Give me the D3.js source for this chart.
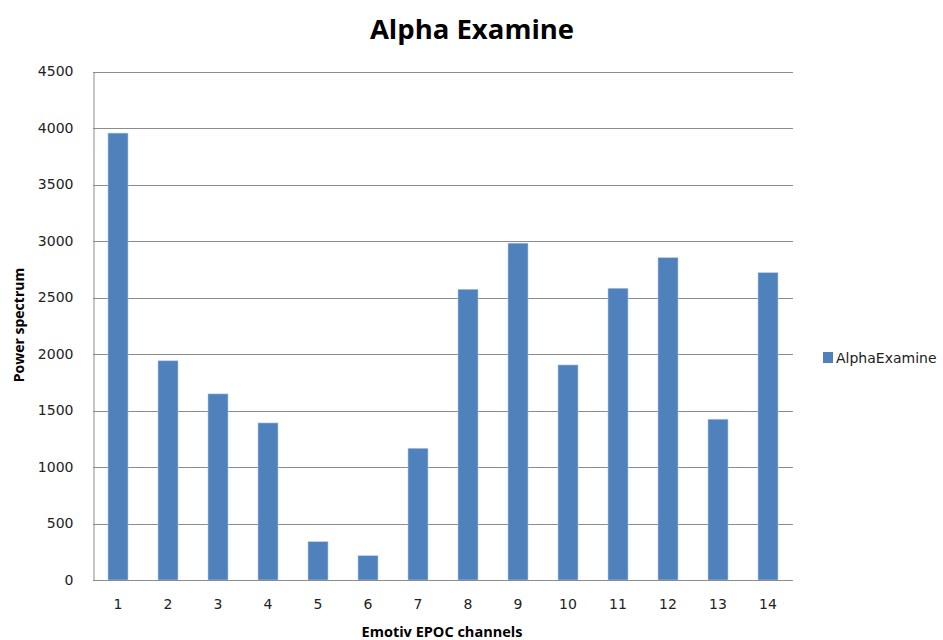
<!DOCTYPE html>
<html><head><meta charset="utf-8">
<script src="https://cdn.jsdelivr.net/npm/d3@7"></script>
<style>body{margin:0;background:#fff;}svg{display:block;}</style>
</head><body>
<svg id="chart" width="943" height="640"></svg>
<script>
const categories = ["1","2","3","4","5","6","7","8","9","10","11","12","13","14"];
const alphaExamine = [3955, 1940, 1647, 1390, 339, 215, 1166, 2573, 2981, 1903, 2582, 2853, 1423, 2720];
const yTicks = [0, 500, 1000, 1500, 2000, 2500, 3000, 3500, 4000, 4500];
const seriesName = "AlphaExamine";
const titleText = "Alpha Examine";
const xTitle = "Emotiv EPOC channels";
const yTitle = "Power spectrum";

const svg = d3.select("#chart");
const m = {left: 93, right: 793, top: 71.5, bottom: 580};
const x = d3.scaleBand().domain(categories).range([m.left, m.right]).paddingInner(0.6).paddingOuter(0.3);
const y = d3.scaleLinear().domain([0, 4500]).range([m.bottom, m.top]);
const font = "DejaVu Sans, sans-serif";

// gridlines
svg.append("g").selectAll("line").data(yTicks.filter(d => d > 0)).join("line")
  .attr("x1", m.left).attr("x2", m.right)
  .attr("y1", d => Math.round(y(d)) + 0.5).attr("y2", d => Math.round(y(d)) + 0.5)
  .attr("stroke", "#8c8c8c").attr("stroke-width", 1);

// bars
svg.append("g").selectAll("rect").data(alphaExamine).join("rect")
  .attr("x", (d, i) => x(categories[i]))
  .attr("width", x.bandwidth())
  .attr("y", d => y(d))
  .attr("height", d => y(0) - y(d))
  .attr("fill", "#4F81BD")
  .attr("stroke", "#b9cde5").attr("stroke-width", 0.6);

// axes
const yAxis = d3.axisLeft(y).tickValues(yTicks).tickFormat(d3.format("d")).tickSize(0).tickPadding(20);
const gy = svg.append("g").attr("transform", `translate(${m.left + 0.5},0)`).call(yAxis);
gy.select(".domain").attr("stroke", "#8c8c8c");
gy.selectAll("text").attr("font-family", font).attr("font-size", 14).attr("fill", "#222");

const xAxis = d3.axisBottom(x).tickSize(0).tickPadding(19);
const gx = svg.append("g").attr("transform", `translate(0,${Math.round(y(0)) + 0.5})`).call(xAxis);
gx.select(".domain").attr("stroke", "#8c8c8c").attr("d", `M${m.left},0H${m.right}`);
gx.selectAll("text").attr("font-family", font).attr("font-size", 14).attr("fill", "#222");

// titles
svg.append("text").attr("x", 472).attr("y", 39).attr("text-anchor", "middle")
  .attr("font-family", "Open Sans, sans-serif").attr("font-weight", "bold").attr("font-size", 27.5)
  .attr("fill", "#000").text(titleText);
svg.append("text").attr("x", 442).attr("y", 637).attr("text-anchor", "middle")
  .attr("font-family", "Open Sans, sans-serif").attr("font-weight", "bold").attr("font-size", 14.5)
  .attr("fill", "#000").text(xTitle);
svg.append("text").attr("transform", "translate(24,325) rotate(-90)").attr("text-anchor", "middle")
  .attr("font-family", "Open Sans, sans-serif").attr("font-weight", "bold").attr("font-size", 14)
  .attr("fill", "#000").text(yTitle);

// legend
const lg = svg.append("g").attr("transform", "translate(823,352)");
lg.append("rect").attr("width", 10).attr("height", 11).attr("fill", "#4F81BD");
lg.append("text").attr("x", 13).attr("y", 11).attr("font-family", font).attr("font-size", 14)
  .attr("fill", "#222").text(seriesName);
</script>
</body></html>
